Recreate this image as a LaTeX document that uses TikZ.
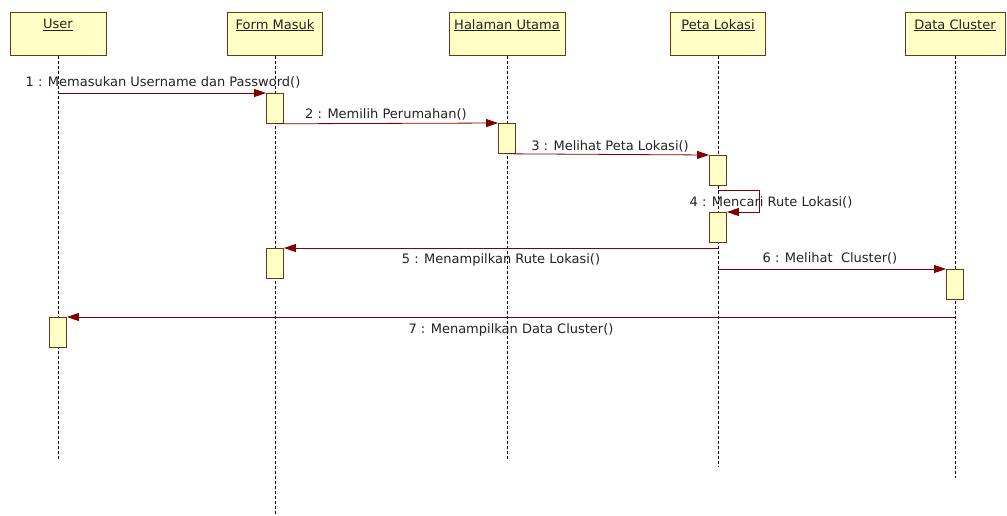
\documentclass[tikz,border=0pt]{standalone}
\usepackage{fontspec}
\setmainfont{DejaVu Sans}
\usetikzlibrary{arrows.meta}
\definecolor{boxfill}{HTML}{FFFFC6}
\definecolor{boxline}{HTML}{6E3510}
\definecolor{msgcol}{HTML}{800000}
\definecolor{txt}{HTML}{222222}
\begin{document}
\begin{tikzpicture}[x=1pt,y=-1pt,
  head/.style={draw=boxline, fill=boxfill, line width=0.8pt, minimum height=43pt,
               inner sep=0pt, anchor=north},
  hlabel/.style={anchor=north, yshift=-7pt, inner sep=0pt, text=txt,
                 font=\fontsize{13}{15}\selectfont},
  act/.style={draw=boxline, fill=boxfill, line width=0.8pt, minimum width=17pt,
              minimum height=30pt, inner sep=0pt, anchor=north},
  life/.style={draw=black, line width=0.9pt, dash pattern=on 3pt off 2pt},
  msgline/.style={draw=msgcol, line width=0.8pt, -{Triangle[length=12pt,width=8pt]}},
  lbl/.style={inner sep=0pt, text=txt, font=\fontsize{13}{15}\selectfont}]
\useasboundingbox (0,0) rectangle (1007,515);

% object headers
\node[head, minimum width=96pt,  label={[hlabel]north:\underline{User}}]          (user) at (58,12)  {};
\node[head, minimum width=95pt,  label={[hlabel]north:\underline{Form Masuk}}]    (form) at (275,12) {};
\node[head, minimum width=116pt, label={[hlabel]north:\underline{Halaman Utama}}] (hal)  at (507,12) {};
\node[head, minimum width=95pt,  label={[hlabel]north:\underline{Peta Lokasi}}]   (peta) at (718,12) {};
\node[head, minimum width=100pt, label={[hlabel]north:\underline{Data Cluster}}]  (data) at (955,12) {};

% lifeline ends
\coordinate (userend) at (58,460);
\coordinate (formend) at (275,514);
\coordinate (halend)  at (507,460);
\coordinate (petaend) at (718,467);
\coordinate (dataend) at (955,478);

% lifelines
\draw[life] (user.south) -- (userend);
\draw[life] (form.south) -- (formend);
\draw[life] (hal.south)  -- (halend);
\draw[life] (peta.south) -- (petaend);
\draw[life] (data.south) -- (dataend);

% activations
\node[act] (f1) at (275,93)  {};
\node[act] (h1) at (507,123) {};
\node[act] (p1) at (718,155) {};
\node[act] (p2) at (718,212) {};
\node[act] (f2) at (275,248) {};
\node[act] (d1) at (955,269) {};
\node[act] (u1) at (58,317)  {};

% loop corners and message origins
\coordinate (s4a) at (718,190);
\coordinate (s4b) at (759,190);
\coordinate (s4c) at (759,212);
\coordinate (s5) at (718,248);
\coordinate (s6) at (718,269);
\coordinate (s7) at (955,317);

% messages
\draw[msgline] (user.south |- f1.north) -- (f1.north west);
\draw[msgline] (f1.south) -- (h1.north west);
\draw[msgline] (h1.south) -- (p1.north west);
\draw[msgline] (s4a) -- (s4b) -- (s4c) -- (p2.north east);
\draw[msgline] (s5) -- (f2.north east);
\draw[msgline] (s6) -- (d1.north west);
\draw[msgline] (s7) -- (u1.north east);

% message labels
\node[lbl] (m1) at (163,82)  {1 : Memasukan Username dan Password()};
\node[lbl] (m2) at (386,114) {2 : Memilih Perumahan()};
\node[lbl] (m3) at (610,146) {3 : Melihat Peta Lokasi()};
\node[lbl] (m4) at (771,202) {4 : Mencari Rute Lokasi()};
\node[lbl] (m5) at (501,260) {5 : Menampilkan Rute Lokasi()};
\node[lbl] (m6) at (830,258) {6 : Melihat\ \ Cluster()};
\node[lbl] (m7) at (511,330) {7 : Menampilkan Data Cluster()};
\end{tikzpicture}
\end{document}
